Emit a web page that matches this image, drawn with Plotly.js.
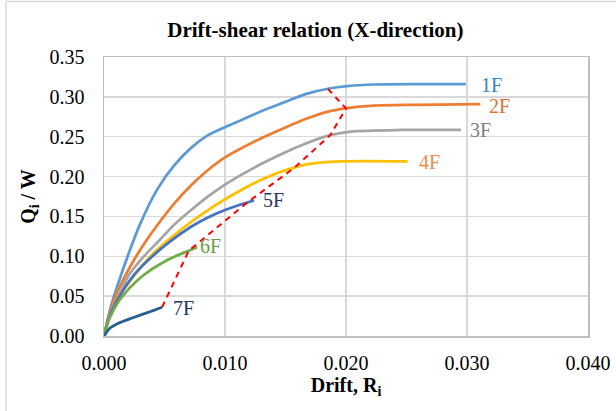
<!DOCTYPE html>
<html>
<head>
<meta charset="utf-8">
<script src="https://cdn.plot.ly/plotly-3.0.1.min.js"></script>
<style>html,body{margin:0;padding:0;background:#fff;}#chart{width:616px;height:411px;}</style>
</head>
<body>
<div id="chart"></div>
<script>
// Data
const floors = ["1F", "2F", "3F", "4F", "5F", "6F", "7F"];

const x1F = [0, 0.0005, 0.0010, 0.0020, 0.0030, 0.0044, 0.0058, 0.0072, 0.0085, 0.0100, 0.0116, 0.0130, 0.0146, 0.0168, 0.0186, 0.0201, 0.0223, 0.0260, 0.0299];
const y1F = [0, 0.033, 0.058, 0.102, 0.141, 0.184, 0.214, 0.236, 0.251, 0.262, 0.2725, 0.282, 0.2915, 0.304, 0.3105, 0.3135, 0.3155, 0.316, 0.316];

const x2F = [0, 0.0005, 0.0011, 0.0025, 0.0036, 0.0044, 0.0058, 0.0072, 0.0085, 0.0100, 0.0127, 0.0149, 0.0170, 0.0185, 0.0201, 0.0223, 0.0260, 0.0311];
const y2F = [0, 0.030, 0.055, 0.096, 0.122, 0.139, 0.166, 0.189, 0.207, 0.224, 0.246, 0.261, 0.274, 0.2815, 0.286, 0.289, 0.290, 0.291];

const x3F = [0, 0.0005, 0.0013, 0.0020, 0.0030, 0.0047, 0.0058, 0.0072, 0.0085, 0.0100, 0.0127, 0.0149, 0.0171, 0.0187, 0.0204, 0.0245, 0.0295];
const y3F = [0, 0.027, 0.053, 0.075, 0.095, 0.122, 0.1395, 0.158, 0.174, 0.190, 0.2135, 0.230, 0.244, 0.252, 0.2565, 0.2585, 0.2586];

const x4F = [0, 0.0005, 0.0015, 0.0036, 0.0052, 0.0072, 0.0085, 0.0100, 0.0115, 0.0130, 0.0149, 0.0170, 0.0196, 0.0251];
const y4F = [0, 0.025, 0.055, 0.096, 0.119, 0.143, 0.157, 0.1715, 0.1845, 0.196, 0.2075, 0.216, 0.219, 0.219];

const x5F = [0, 0.0004, 0.0011, 0.0025, 0.0040, 0.0055, 0.0072, 0.0085, 0.0100, 0.0113, 0.0124];
const y5F = [0, 0.022, 0.045, 0.077, 0.100, 0.119, 0.137, 0.148, 0.158, 0.1650, 0.170];

const x6F = [0, 0.0003, 0.0007, 0.0014, 0.0030, 0.0052, 0.0070, 0.0077];
const y6F = [0, 0.016, 0.030, 0.0475, 0.073, 0.095, 0.107, 0.1115];

const x7F = [0, 0.0005, 0.0011, 0.0025, 0.0039, 0.0048];
const y7F = [0, 0.010, 0.0155, 0.0235, 0.031, 0.0361];

// Red dashed limit line (points on each floor curve)
const xLimit = [0.0048, 0.0070, 0.0118, 0.0157, 0.0187, 0.0200, 0.0185];
const yLimit = [0.0361, 0.107, 0.167, 0.2107, 0.252, 0.2855, 0.310];

// Floor label positions
const labelX = [0.0320, 0.0327, 0.0311, 0.0269, 0.0140, 0.0088, 0.00654];
const labelY = [0.315, 0.289, 0.258, 0.218, 0.171, 0.1125, 0.035];

const xTicks = [0, 0.01, 0.02, 0.03, 0.04];
const xTickText = ["0.000", "0.010", "0.020", "0.030", "0.040"];
const yTicks = [0, 0.05, 0.10, 0.15, 0.20, 0.25, 0.30, 0.35];
const yTickText = ["0.00", "0.05", "0.10", "0.15", "0.20", "0.25", "0.30", "0.35"];

const lineColors = ["#5B9BD5", "#ED7D31", "#A5A5A5", "#FFC000", "#4472C4", "#70AD47", "#255E91"];
const labelColors = ["#2E86C8", "#E0702A", "#7F7F7F", "#F08A4B", "#1F3864", "#6A9E45", "#203864"];

const xs = [x1F, x2F, x3F, x4F, x5F, x6F, x7F];
const ys = [y1F, y2F, y3F, y4F, y5F, y6F, y7F];

const FONT = "'Liberation Serif', 'Times New Roman', serif";

const traces = floors.map((f, i) => ({
  type: "scatter", mode: "lines", name: f,
  x: xs[i], y: ys[i],
  line: {color: lineColors[i], width: 2.75, shape: "spline", smoothing: 0.8},
  hoverinfo: "x+y+name"
}));
traces.push({
  type: "scatter", mode: "lines", name: "limit",
  x: xLimit, y: yLimit,
  line: {color: "#FF0000", width: 2, dash: "6px,5px"}
});

const annotations = floors.map((f, i) => ({
  x: labelX[i], y: labelY[i], xref: "x", yref: "y",
  text: f, showarrow: false,
  font: {family: FONT, size: 20, color: labelColors[i]},
  xanchor: "center", yanchor: "middle"
}));

const layout = {
  width: 616, height: 411,
  margin: {l: 104, r: 28, t: 57, b: 75, pad: 0},
  paper_bgcolor: "#ffffff", plot_bgcolor: "#ffffff",
  showlegend: false,
  font: {family: FONT, size: 20, color: "#000000"},
  title: {
    text: "<b>Drift-shear relation (X-direction)</b>",
    font: {family: FONT, size: 21, color: "#000000"},
    x: 0.512, xref: "container", y: 0.927, yref: "container",
    xanchor: "center", yanchor: "middle"
  },
  xaxis: {
    range: [0, 0.04], tickvals: xTicks, ticktext: xTickText,
    showgrid: true, gridcolor: "#D9D9D9", gridwidth: 1.5,
    zeroline: false, showline: true, mirror: true, linecolor: "#BFBFBF", linewidth: 1.5,
    ticks: "", ticklabelstandoff: 8,
    tickfont: {family: FONT, size: 20, color: "#000000"},
    title: {text: "<b>Drift, R<sub>i</sub></b>", font: {family: FONT, size: 20, color: "#000000"}, standoff: 3}
  },
  yaxis: {
    range: [0, 0.35], tickvals: yTicks, ticktext: yTickText,
    showgrid: true, gridcolor: "#D9D9D9", gridwidth: 1.5,
    zeroline: false, showline: true, mirror: true, linecolor: "#BFBFBF", linewidth: 1.5,
    ticks: "", ticklabelstandoff: 14,
    tickfont: {family: FONT, size: 20, color: "#000000"},
    title: {text: "<b>Q<sub>i</sub> / W</b>", font: {family: FONT, size: 20, color: "#000000"}, standoff: 8}
  },
  annotations: annotations,
  shapes: [{
    type: "rect", xref: "paper", yref: "paper",
    x0: -0.2025, x1: 1.2, y0: -0.4, y1: 1.199,
    line: {color: "#D9D9D9", width: 1.5}, layer: "below"
  }]
};

Plotly.newPlot("chart", traces, layout, {displayModeBar: false, staticPlot: true});
</script>
</body>
</html>
